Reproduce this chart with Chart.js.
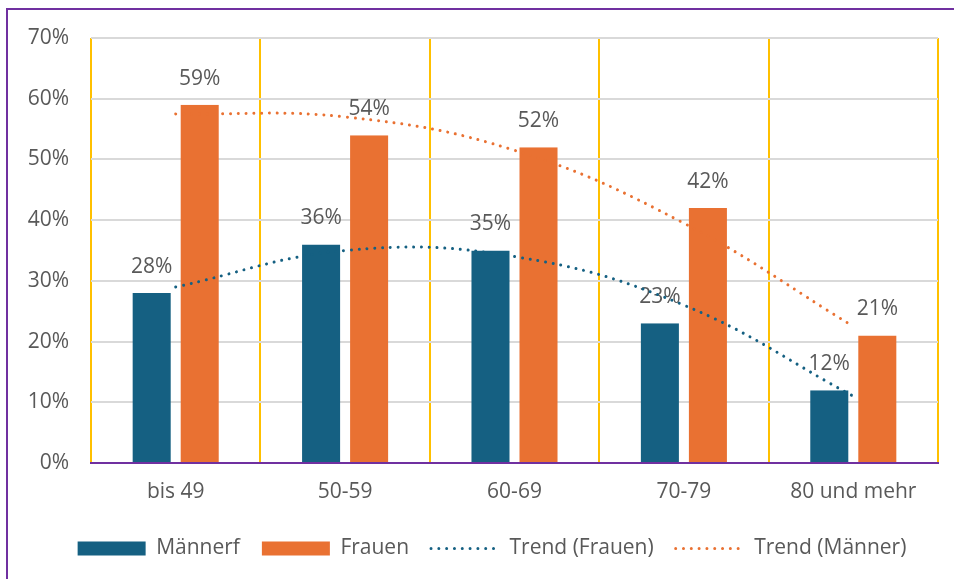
<!DOCTYPE html>
<html>
<head>
<meta charset="utf-8">
<script src="https://cdn.jsdelivr.net/npm/chart.js@4"></script>
<style>
  html, body { margin: 0; padding: 0; background: #fff; overflow: hidden; }
  #wrap { position: absolute; left: 0; top: 0; width: 954px; height: 579px; }
  #frame { position: absolute; left: 6px; top: 8px; width: 970px; height: 600px;
           border: 2px solid #7030A0; box-sizing: border-box; pointer-events: none; }
</style>
</head>
<body>
<div id="wrap"><canvas id="chart"></canvas></div>
<div id="frame"></div>
<script>
const categories = ['bis 49', '50-59', '60-69', '70-79', '80 und mehr'];
const maenner = [28, 36, 35, 23, 12];
const frauen = [59, 54, 52, 42, 21];
// trend curves at the category centres
const trendBlue = [29, 35, 34, 26, 11];
const trendOrange = [57.5, 57, 51.5, 39.5, 22.5];

const BLUE = '#156082';
const ORANGE = '#E97132';
const TEXT = '#595959';
const FONT = "'Open Sans', sans-serif";
const FS = 21;

Chart.defaults.font.family = FONT;
Chart.defaults.color = TEXT;

const barLabels = {
    id: 'barLabels',
    afterDatasetDraw(chart, args) {
        const meta = args.meta;
        if (meta.type !== 'bar') return;
        const ctx = chart.ctx;
        const data = chart.data.datasets[args.index].data;
        ctx.save();
        ctx.font = FS + 'px ' + FONT;
        ctx.fillStyle = TEXT;
        ctx.textAlign = 'center';
        ctx.textBaseline = 'middle';
        meta.data.forEach((bar, i) => {
            ctx.fillText(data[i] + '%', bar.x, bar.y - 26);
        });
        ctx.restore();
    }
};

// legend sits a bit off the canvas centre in the original
const legendShift = {
    id: 'legendShift',
    afterLayout(chart) {
        chart.legend.left += 13;
        chart.legend.right += 13;
    }
};

new Chart(document.getElementById('chart'), {
    type: 'bar',
    data: {
        labels: categories,
        datasets: [{
            label: 'Männerf',
            data: maenner,
            backgroundColor: BLUE,
            borderColor: 'rgba(0,0,0,0)',
            borderWidth: {left: 5, right: 5, top: 0, bottom: 0},
            pointStyle: 'rect',
            categoryPercentage: 0.567,
            barPercentage: 1,
            order: 1
        }, {
            label: 'Frauen',
            data: frauen,
            backgroundColor: ORANGE,
            borderColor: 'rgba(0,0,0,0)',
            borderWidth: {left: 5, right: 5, top: 0, bottom: 0},
            pointStyle: 'rect',
            categoryPercentage: 0.567,
            barPercentage: 1,
            order: 1
        }, {
            type: 'line',
            label: 'Trend (Frauen)',
            data: trendBlue,
            borderColor: BLUE,
            backgroundColor: BLUE,
            borderWidth: 3,
            borderDash: [0.01, 7.8],
            borderCapStyle: 'round',
            pointRadius: 0,
            pointStyle: 'line',
            tension: 0.4,
            fill: false,
            order: 0
        }, {
            type: 'line',
            label: 'Trend (Männer)',
            data: trendOrange,
            borderColor: ORANGE,
            backgroundColor: ORANGE,
            borderWidth: 3,
            borderDash: [0.01, 7.8],
            borderCapStyle: 'round',
            pointRadius: 0,
            pointStyle: 'line',
            tension: 0.4,
            fill: false,
            order: 0
        }]
    },
    options: {
        responsive: true,
        maintainAspectRatio: false,
        animation: false,
        layout: { padding: { left: 20, right: 16, top: 38, bottom: 10 } },
        plugins: {
            legend: {
                position: 'bottom',
                labels: {
                    usePointStyle: true,
                    pointStyleWidth: 68,
                    boxHeight: 14,
                    padding: 22,
                    font: { size: FS },
                    color: TEXT,
                    generateLabels(chart) {
                        return chart.data.datasets.map((ds, i) => {
                            const isLine = ds.type === 'line';
                            return {
                                text: ds.label,
                                fillStyle: ds.backgroundColor,
                                strokeStyle: isLine ? ds.borderColor : 'rgba(0,0,0,0)',
                                lineWidth: isLine ? 3 : 0,
                                lineDash: isLine ? ds.borderDash : [],
                                lineCap: 'round',
                                pointStyle: ds.pointStyle,
                                fontColor: TEXT,
                                hidden: false,
                                datasetIndex: i
                            };
                        });
                    }
                }
            },
            tooltip: { enabled: false }
        },
        scales: {
            x: {
                offset: true,
                afterFit(scale) { scale.height = 53; },
                grid: { color: '#FFC000', lineWidth: 2, offset: true, drawTicks: false },
                border: { color: '#7030A0', width: 2 },
                ticks: { font: { size: FS }, color: TEXT, padding: 16 }
            },
            y: {
                min: 0,
                max: 70,
                afterFit(scale) { scale.width = 71; },
                grid: { color: '#D9D9D9', lineWidth: 2, drawTicks: false },
                border: { display: false },
                ticks: {
                    stepSize: 10,
                    font: { size: FS },
                    color: TEXT,
                    padding: 22,
                    callback: v => v + '%'
                }
            }
        }
    },
    plugins: [barLabels, legendShift]
});
</script>
</body>
</html>
